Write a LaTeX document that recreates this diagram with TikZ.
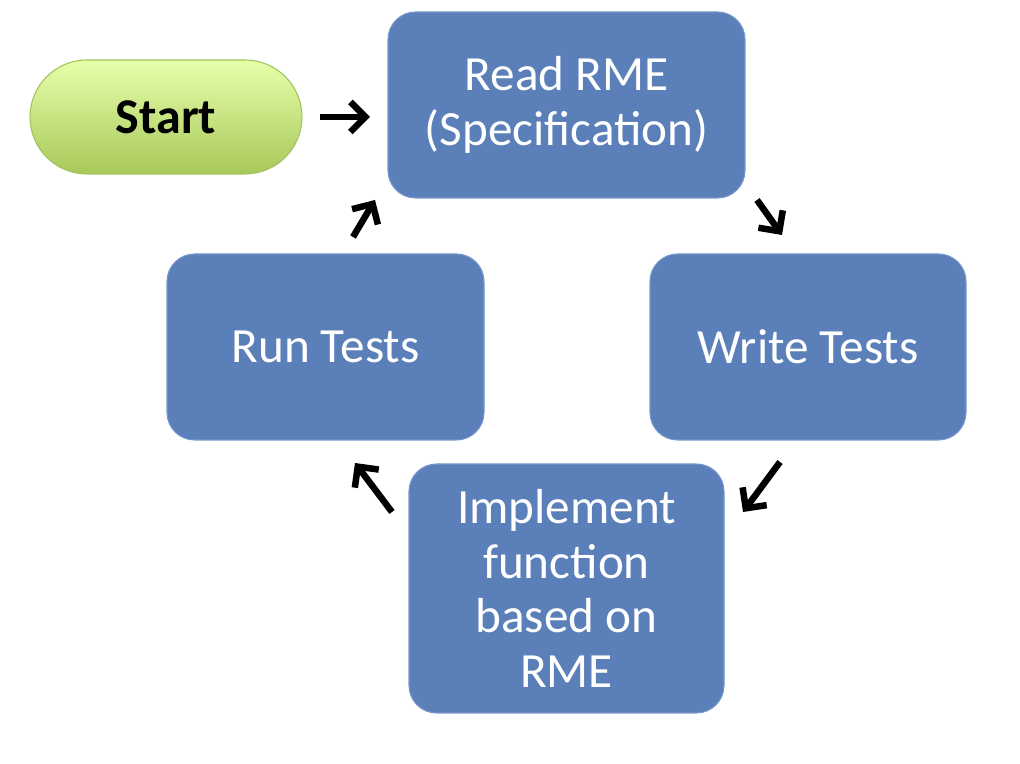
\documentclass[tikz,border=0pt]{standalone}
\usepackage{fontspec}
\setmainfont{Carlito}
\usepackage{xcolor}
\usetikzlibrary{arrows.meta}
\definecolor{boxblue}{RGB}{91,128,185}
\definecolor{boxedge}{RGB}{120,152,202}
\definecolor{startedge}{RGB}{160,195,90}
\definecolor{starttop}{RGB}{230,255,170}
\definecolor{startbot}{RGB}{168,200,90}

\begin{document}
\begin{tikzpicture}[
    stepbox/.style={rectangle, rounded corners=0.55cm, fill=boxblue, draw=boxedge,
      line width=0.6pt, text=white, align=center, inner sep=0pt,
      font=\fontsize{28}{31}\selectfont},
    startbox/.style={rectangle, rounded corners=1.14cm, draw=startedge, line width=0.6pt,
      top color=starttop, bottom color=startbot, inner sep=0pt,
      minimum width=5.44cm, minimum height=2.28cm,
      font=\fontsize{28.5}{31}\selectfont\bfseries},
    flow/.style={-{Straight Barb[length=0.3cm, width=0.6cm]}, line width=3.7pt}]
  \useasboundingbox (0,0) rectangle (20.4,15.28);
  % Boxes
  \node[startbox] (start) at (3.32,12.94) {Start};
  \node[stepbox, minimum width=7.14cm, minimum height=3.72cm] (read) at (11.33,13.18) {Read RME\\(Specification)};
  \node[stepbox, minimum width=6.32cm, minimum height=3.72cm] (write) at (16.16,8.34) {Write Tests};
  \node[stepbox, minimum width=6.30cm, minimum height=4.98cm] (impl) at (11.33,3.51) {Implement\\function\\based on\\RME};
  \node[stepbox, minimum width=6.34cm, minimum height=3.72cm] (run) at (6.51,8.34) {Run Tests};
  % Arrow ends
  \coordinate (startout) at (6.40,12.94);
  \coordinate (readin)   at (7.40,12.94);
  \coordinate (readout)  at (15.14,11.28);
  \coordinate (writein)  at (15.64,10.58);
  \coordinate (writeout) at (15.60,6.04);
  \coordinate (implin)   at (14.86,5.04);
  \coordinate (implout)  at (7.84,5.04);
  \coordinate (runin)    at (7.10,6.02);
  \coordinate (runout)   at (7.06,10.54);
  \coordinate (readback) at (7.50,11.28);
  % Arrows
  \draw[flow] (startout) -- (readin);
  \draw[flow] (readout) -- (writein);
  \draw[flow] (writeout) -- (implin);
  \draw[flow] (implout) -- (runin);
  \draw[flow] (runout) -- (readback);
\end{tikzpicture}
\end{document}
